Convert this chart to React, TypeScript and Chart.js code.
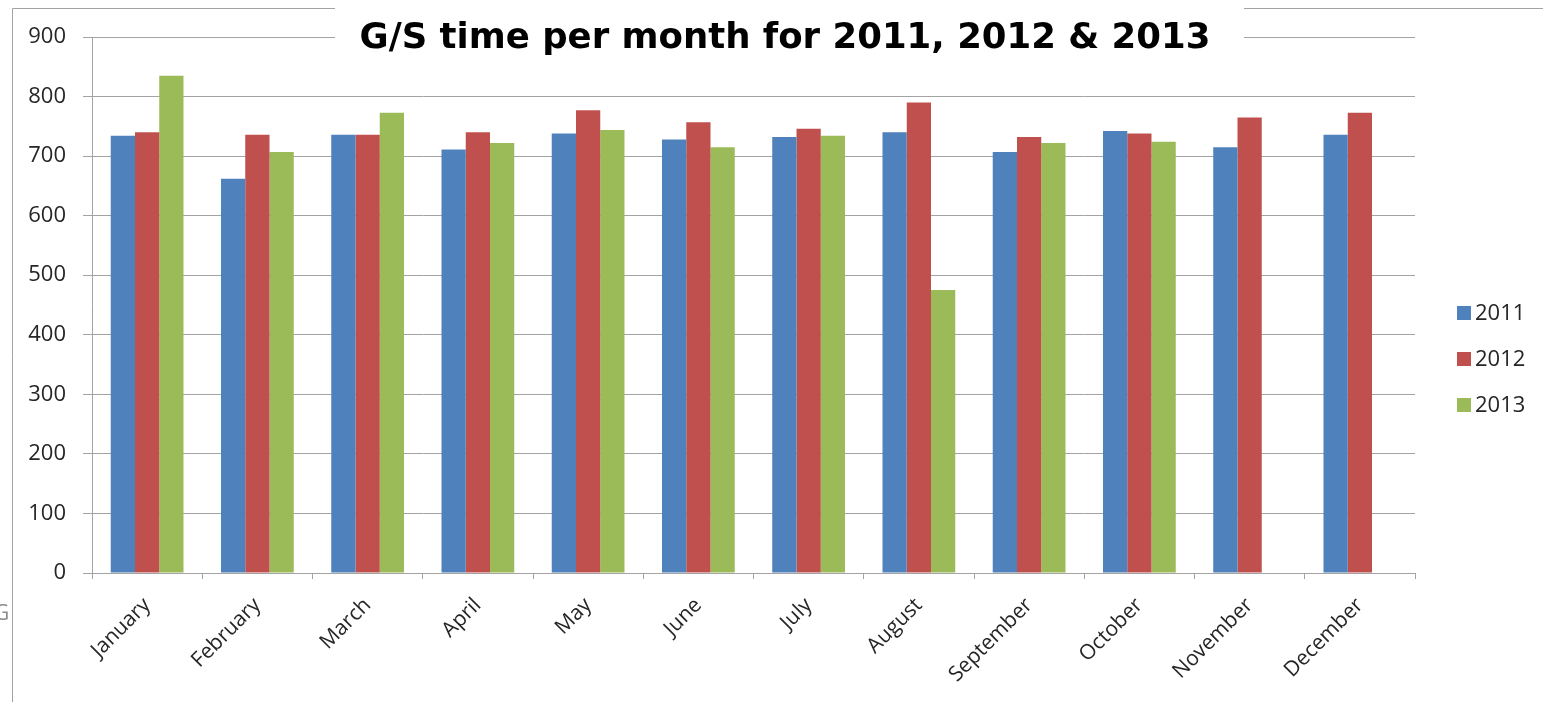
import React, { useEffect, useRef } from "react";
import { Chart, registerables } from "chart.js";

Chart.register(...registerables);

const months = [
  "January", "February", "March", "April", "May", "June",
  "July", "August", "September", "October", "November", "December",
];
const values2011 = [734, 662, 736, 711, 738, 728, 732, 740, 707, 742, 715, 736];
const values2012 = [740, 736, 736, 740, 777, 757, 746, 790, 732, 738, 765, 773];
const values2013 = [835, 707, 773, 722, 744, 715, 734, 475, 722, 724, null, null];
const seriesLabels = ["2011", "2012", "2013"];
const seriesColors = ["#4F81BD", "#C0504D", "#9BBB59"];
const yTicks = { min: 0, max: 900, step: 100 };
const titleText = "G/S time per month for 2011, 2012 & 2013";

const LABEL_FONT = "'Open Sans', 'Noto Sans', sans-serif";
const LINE_GRAY = "#a3a3a3";

// Thin outer frame: top edge and left edge of the surrounding box.
const framePlugin = {
  id: "outerFrame",
  beforeDraw(chart: any) {
    const ctx = chart.ctx;
    ctx.save();
    ctx.strokeStyle = LINE_GRAY;
    ctx.lineWidth = 1;
    ctx.beginPath();
    ctx.moveTo(12.5, 702);
    ctx.lineTo(12.5, 8.5);
    ctx.lineTo(chart.width, 8.5);
    ctx.stroke();
    // clipped letter at the far left edge
    ctx.fillStyle = "#8c8c8c";
    ctx.font = `21px ${LABEL_FONT}`;
    ctx.textBaseline = "middle";
    ctx.fillText("G", -6, 614);
    ctx.restore();
  },
};

// Title sitting on a white box over the top gridline.
const titleBoxPlugin = {
  id: "titleBox",
  afterDraw(chart: any) {
    const ctx = chart.ctx;
    ctx.save();
    ctx.fillStyle = "#ffffff";
    ctx.fillRect(335, 0, 909, 62);
    ctx.fillStyle = "#000000";
    ctx.font = "bold 35.5px 'DejaVu Sans', sans-serif";
    ctx.textAlign = "center";
    ctx.textBaseline = "middle";
    ctx.fillText(titleText, 785, 39);
    ctx.restore();
  },
};

// Legend on the right side, vertically stacked.
const sideLegendPlugin = {
  id: "sideLegend",
  afterDraw(chart: any) {
    const ctx = chart.ctx;
    const x = chart.chartArea.right + 42;
    ctx.save();
    ctx.font = `22px ${LABEL_FONT}`;
    ctx.textBaseline = "middle";
    chart.data.datasets.forEach((ds: any, i: number) => {
      const cy = 313 + i * 46;
      ctx.fillStyle = ds.backgroundColor;
      ctx.fillRect(x, cy - 7, 14, 14);
      ctx.fillStyle = "#262626";
      ctx.fillText(ds.label, x + 18, cy + 1);
    });
    ctx.restore();
  },
};

export default function App() {
  const canvasRef = useRef<HTMLCanvasElement | null>(null);

  useEffect(() => {
    if (!canvasRef.current) return;
    const makeSet = (i: number, data: (number | null)[]) => ({
      label: seriesLabels[i],
      data,
      backgroundColor: seriesColors[i],
      borderWidth: 0,
      categoryPercentage: 0.66,
      barPercentage: 1.0,
    });
    const chart = new Chart(canvasRef.current, {
      type: "bar",
      data: {
        labels: months,
        datasets: [
          makeSet(0, values2011),
          makeSet(1, values2012),
          makeSet(2, values2013),
        ],
      },
      plugins: [framePlugin, titleBoxPlugin, sideLegendPlugin],
      options: {
        animation: false,
        responsive: false,
        layout: { padding: { top: 37, right: 128, left: 0, bottom: 0 } },
        plugins: {
          legend: { display: false },
          title: { display: false },
          tooltip: { enabled: false },
        },
        scales: {
          x: {
            grid: {
              offset: true,
              drawOnChartArea: false,
              color: LINE_GRAY,
              tickLength: 6,
            },
            border: { color: LINE_GRAY },
            ticks: {
              color: "#262626",
              font: { family: LABEL_FONT, size: 21 },
              minRotation: 45,
              maxRotation: 45,
              padding: 14,
            },
            afterFit(scale: any) {
              scale.height = 129;
            },
          },
          y: {
            min: yTicks.min,
            max: yTicks.max,
            grid: { color: LINE_GRAY, tickLength: 9 },
            border: { color: LINE_GRAY },
            ticks: {
              stepSize: yTicks.step,
              color: "#262626",
              font: { family: LABEL_FONT, size: 22 },
              padding: 17,
            },
            afterFit(scale: any) {
              scale.width = 92;
            },
          },
        },
      },
    });
    return () => chart.destroy();
  }, []);

  return (
    <div style={{ position: "fixed", left: 0, top: 0, width: 1543, height: 702, background: "#fff" }}>
      <canvas ref={canvasRef} width={1543} height={702} />
    </div>
  );
}
